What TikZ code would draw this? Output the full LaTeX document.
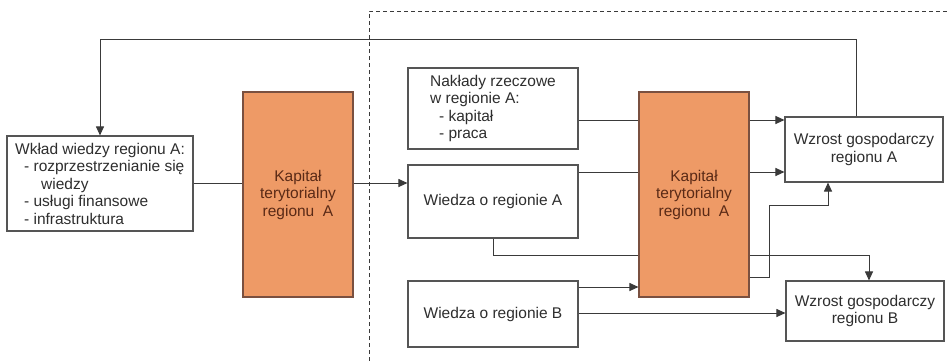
\documentclass[tikz,border=0pt]{standalone}
\usepackage{fontspec}
\setmainfont{Liberation Sans}
\usetikzlibrary{arrows.meta}
\definecolor{capfill}{HTML}{EE9A66}
\definecolor{captext}{HTML}{5A2A16}
\definecolor{capdraw}{HTML}{7A5040}
\definecolor{linec}{HTML}{3A3A3A}
\definecolor{boxc}{HTML}{555555}
\definecolor{txt}{HTML}{2E2E2E}
\begin{document}
\begin{tikzpicture}[x=1pt,y=-1pt,
  box/.style={draw=boxc,line width=1.1pt,fill=white,inner sep=0pt,text=txt,
    font=\fontsize{15.5}{17.5}\selectfont},
  capbox/.style={draw=capdraw,line width=1.1pt,fill=capfill,inner sep=0pt,text=captext,
    minimum width=110pt,minimum height=205pt,align=center,
    font=\fontsize{15.5}{17.5}\selectfont},
  conn/.style={draw=linec,line width=1pt},
  arr/.style={conn,-{Triangle[length=9pt,width=8pt]}},
  frame/.style={draw=linec,line width=0.9pt,dash pattern=on 4pt off 3pt}]
\useasboundingbox (0,0) rectangle (948,361);
% dashed frame
\coordinate (fb) at (369,361);
\coordinate (ft) at (369,11);
\coordinate (fr) at (948,11);
\draw[frame] (fb) -- (ft) -- (fr);
% nodes
\node[box,minimum width=186pt,minimum height=95pt,align=left] (wklad) at (100,183.5)
  {Wkład wiedzy regionu A:\\
   \hspace*{9pt}- rozprzestrzenianie się\\
   \hspace*{26pt}wiedzy\\
   \hspace*{9pt}- usługi finansowe\\
   \hspace*{9pt}- infrastruktura};
\node[capbox] (kap1) at (298,194.5) {Kapitał\\terytorialny\\regionu\ \ A};
\node[box,minimum width=170pt,minimum height=81pt,align=left] (nak) at (493,108.5)
  {Nakłady rzeczowe\\
   w regionie A:\\
   \hspace*{9pt}- kapitał\\
   \hspace*{9pt}- praca};
\node[box,minimum width=170pt,minimum height=73pt,align=center] (wA) at (493,201.5) {Wiedza o regionie A};
\node[box,minimum width=170pt,minimum height=66pt,align=center] (wB) at (493,314) {Wiedza o regionie B};
\node[capbox] (kap2) at (694,194.5) {Kapitał\\terytorialny\\regionu\ \ A};
\node[box,minimum width=158pt,minimum height=65pt,align=center] (wzA) at (864,149.5) {Wzrost gospodarczy\\regionu A};
\node[box,minimum width=158pt,minimum height=60pt,align=center] (wzB) at (865,311) {Wzrost gospodarczy\\regionu B};
% connectors
\draw[conn] (wklad.east |- 0,183) -- (kap1.west |- 0,183);
\draw[arr] (kap1.east |- 0,183) -- (wA.west |- 0,183);
\draw[conn] (nak.east |- 0,120) -- (kap2.west |- 0,120);
\draw[arr] (kap2.east |- 0,120) -- (wzA.west |- 0,120);
\draw[conn] (wA.east |- 0,172) -- (kap2.west |- 0,172);
\draw[arr] (kap2.east |- 0,172) -- (wzA.west |- 0,172);
\draw[conn] (wA.south) |- (kap2.west |- 0,255);
\draw[arr] (kap2.east |- 0,255) -| ([xshift=4pt]wzB.north);
\draw[arr] (kap2.east |- 0,277) -| (769,205) -| (828,0 |- wzA.south);
\draw[arr] (wB.east |- 0,287) -- (kap2.west |- 0,287);
\draw[arr] (wB.east |- 0,313) -- (wzB.west |- 0,313);
\draw[arr] (856,0 |- wzA.north) |- (wklad.north |- 0,40) -- (wklad.north);
\end{tikzpicture}
\end{document}
